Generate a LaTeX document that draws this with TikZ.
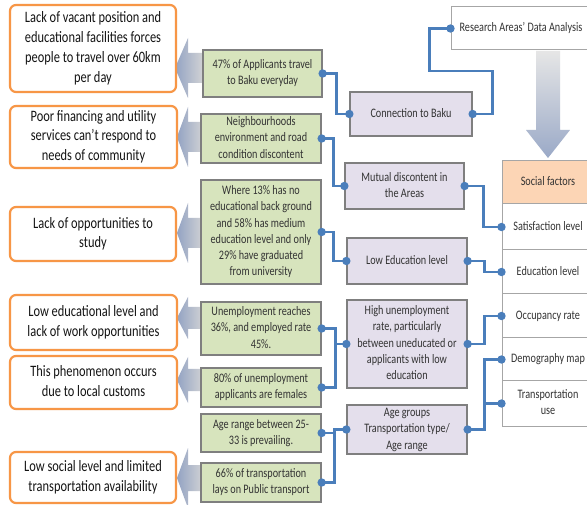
\documentclass[tikz,border=0pt]{standalone}
\usepackage{fontspec}
\usepackage{graphicx}
\setmainfont{Carlito}
\definecolor{orangeC}{HTML}{F79646}
\definecolor{greenC}{HTML}{D7E4BD}
\definecolor{purpC}{HTML}{E4DFEC}
\definecolor{sfC}{HTML}{FCD5B5}
\definecolor{blueC}{HTML}{4A7EBB}
\definecolor{greyC}{HTML}{7F7F7F}
\definecolor{greyL}{HTML}{A6A6A6}
\definecolor{arrB}{HTML}{93A3C3}
\definecolor{arrG}{HTML}{D6D6D6}
\definecolor{dwT}{HTML}{E6E6E6}
\definecolor{dwB}{HTML}{9AA9C7}
\definecolor{txtC}{HTML}{333333}
\newcommand{\bigtxt}[1]{\scalebox{1}[1.28]{\fontsize{12.4}{15.5}\selectfont\begin{tabular}{@{}c@{}}#1\end{tabular}}}
\newcommand{\smtxt}[1]{\scalebox{1}[1.27]{\fontsize{10.2}{12.8}\selectfont\begin{tabular}{@{}c@{}}#1\end{tabular}}}
\newcommand{\leftarr}[4]{%
  \shade[left color=arrB, right color=arrG] (#4,#1) -- (188,{#1-#2}) -- (188,{#1-#3}) -- (205,{#1-#3}) -- (205,{#1+#3}) -- (188,{#1+#3}) -- (188,{#1+#2}) -- cycle;}
\tikzset{
  obox/.style={draw=orangeC, line width=2.2pt, rounded corners=6pt, fill=white, inner sep=0pt, text=black!92},
  gbox/.style={draw=greyC, line width=1.3pt, fill=greenC, inner sep=0pt, text=txtC},
  pbox/.style={draw=greyC, line width=1.3pt, fill=purpC, inner sep=0pt, text=txtC},
  wbox/.style={draw=greyL, line width=1pt, fill=white, inner sep=0pt, text=txtC},
  sfbox/.style={draw=greyL, line width=1pt, fill=sfC, inner sep=0pt, text=txtC},
  conn/.style={draw=blueC, line width=2.9pt},
  dotc/.style={fill=blueC},
}
\begin{document}
\begin{tikzpicture}[x=1pt,y=-1pt]
\useasboundingbox[fill=white] (0,0) rectangle (587,505);
% block arrows
\leftarr{68}{30}{15}{175}
\leftarr{137}{30}{15}{177}
\leftarr{233}{30}{15}{177}
\leftarr{318}{21}{11}{177}
\leftarr{380}{23}{11}{177}
\leftarr{478}{30}{13}{177}
% orange boxes
\node[obox, minimum width=166pt, minimum height=87pt] (O1) at (93,48.5) {\bigtxt{Lack of  vacant position  and\\educational facilities  forces\\people to travel over 60km\\per day}};
\node[obox, minimum width=167pt, minimum height=62pt] (O2) at (93.5,137) {\bigtxt{Poor financing and utility\\services can’t respond to\\needs of community}};
\node[obox, minimum width=166pt, minimum height=54pt] (O3) at (93,234) {\bigtxt{Lack of opportunities to\\study}};
\node[obox, minimum width=167pt, minimum height=55pt] (O4) at (93.5,322.5) {\bigtxt{Low educational level  and\\lack of work opportunities}};
\node[obox, minimum width=167pt, minimum height=53pt] (O5) at (93.5,382.5) {\bigtxt{This phenomenon  occurs\\due to local customs}};
\node[obox, minimum width=166pt, minimum height=51pt] (O6) at (93,477.5) {\bigtxt{Low social level  and limited\\transportation availability}};
% green boxes
\node[gbox, minimum width=119pt, minimum height=47pt] (G1) at (262.5,73.5) {\smtxt{47\% of Applicants travel\\to Baku everyday}};
\node[gbox, minimum width=120pt, minimum height=47pt] (G2) at (261,138.5) {\smtxt{Neighbourhoods\\environment  and road\\condition discontent}};
\node[gbox, minimum width=120pt, minimum height=104pt] (G3) at (261,232) {\smtxt{Where 13\% has no\\educational back ground\\and 58\% has medium\\education level and only\\29\% have graduated\\from university}};
\node[gbox, minimum width=120pt, minimum height=53pt] (G4) at (261,328.5) {\smtxt{Unemployment  reaches\\36\%, and employed rate\\45\%.}};
\node[gbox, minimum width=120pt, minimum height=39pt] (G5) at (261,387.5) {\smtxt{80\% of unemployment\\applicants are females}};
\node[gbox, minimum width=120pt, minimum height=38pt] (G6) at (261,433) {\smtxt{Age range between 25-\\33 is prevailing.}};
\node[gbox, minimum width=120pt, minimum height=39pt] (G7) at (261,482.5) {\smtxt{66\% of transportation\\lays on Public transport}};
% purple boxes
\node[pbox, minimum width=122pt, minimum height=44pt] (P1) at (411,114) {\smtxt{Connection to Baku}};
\node[pbox, minimum width=119pt, minimum height=46pt] (P2) at (404.5,186) {\smtxt{Mutual discontent in\\the Areas}};
\node[pbox, minimum width=120pt, minimum height=46pt] (P3) at (407,261) {\smtxt{Low Education level}};
\node[pbox, minimum width=120pt, minimum height=88pt] (P4) at (407,344) {\smtxt{High unemployment\\rate, particularly\\between uneducated or\\applicants with low\\education}};
\node[pbox, minimum width=120pt, minimum height=45pt] (P5) at (407,429.5) {\smtxt{Age groups\\Transportation type/\\Age range}};
% right column
\node[wbox, minimum width=140pt, minimum height=43pt] (R0) at (521,28.5) {\smtxt{Research Areas’ Data Analysis}};
\shade[top color=dwT, bottom color=dwB] (536,51) -- (560,51) -- (560,130) -- (570,130) -- (548,158) -- (526,130) -- (536,130) -- cycle;
\node[sfbox, minimum width=92pt, minimum height=43pt] (SF) at (548,182.5) {\smtxt{Social factors}};
\node[wbox, minimum width=92pt, minimum height=46pt] (Sat) at (548,227) {\smtxt{Satisfaction level}};
\node[wbox, minimum width=92pt, minimum height=44pt] (Edu) at (548,272) {\smtxt{Education level}};
\node[wbox, minimum width=92pt, minimum height=44pt] (Occ) at (548,316) {\smtxt{Occupancy rate}};
\node[wbox, minimum width=92pt, minimum height=43pt] (Dem) at (548,359.5) {\smtxt{Demography map}};
\node[wbox, minimum width=92pt, minimum height=45pt] (Tra) at (548,403.5) {\smtxt{Transportation\\use}};
% connectors
\draw[conn] (R0.west) -- ++(-21,0) -- ++(0,42.5) -- ++(63,0) |- (P1.east);
\draw[conn] (G1.east) -- ++(14,0) |- (P1.west);
\draw[conn] (G2.east) -- ++(12,0) |- (P2.west);
\draw[conn] (P2.east) -- ++(19,0) |- (Sat.west);
\draw[conn] (G3.east) -- ++(12,0) |- (P3.west);
\draw[conn] (P3.east) -- ++(17,0) |- (Edu.west);
\draw[conn] (G4.east) -- ++(14,0) |- (P4.west);
\draw[conn] (G5.east) -- ++(14,0) |- (P4.west);
\draw[conn] (P4.east) -- ++(17,0) |- (Occ.west);
\draw[conn] (P5.east) -- ++(17,0) |- (Dem.west);
\draw[conn] (P5.east) -- ++(17,0) |- (Tra.west);
\draw[conn] (G6.east) -- ++(13,0) |- (P5.west);
\draw[conn] (G7.east) -- ++(13,0) |- (P5.west);
% dots
\foreach \p in {R0.west,P1.east,G1.east,P1.west,G2.east,P2.west,P2.east,Sat.west,G3.east,P3.west,P3.east,Edu.west,G4.east,G5.east,P4.west,P4.east,Occ.west,P5.east,Dem.west,Tra.west,G6.east,G7.east,P5.west}
  \fill[dotc] (\p) circle (4.2);
\end{tikzpicture}
\end{document}
